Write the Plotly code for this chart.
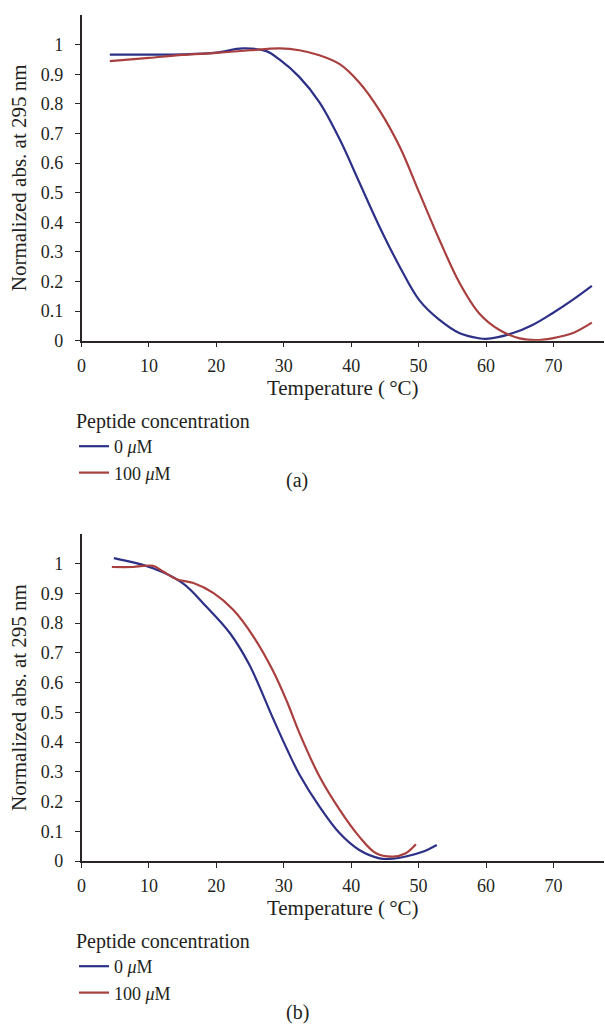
import plotly.graph_objects as go

# ---- data: panel (a) ----
a_x_0uM = [4.2, 10, 15, 20, 23.9, 27.4, 29.4, 32.3, 35.3, 38.3, 41.2, 44.2, 47.2, 50.1, 53.1, 56.1, 59.0, 60.0, 63.9, 66.9, 69.8, 72.8, 75.7]
a_y_0uM = [0.966, 0.966, 0.967, 0.973, 0.987, 0.978, 0.949, 0.891, 0.805, 0.680, 0.535, 0.385, 0.250, 0.137, 0.070, 0.025, 0.008, 0.006, 0.025, 0.053, 0.092, 0.137, 0.185]
a_x_100uM = [4.2, 10, 15, 20, 25, 29.4, 32.3, 35.3, 38.3, 41.2, 44.2, 47.2, 50.1, 53.1, 56.1, 59.0, 62.0, 65.0, 67.4, 69.8, 72.8, 75.7]
a_y_100uM = [0.944, 0.955, 0.965, 0.972, 0.981, 0.987, 0.981, 0.964, 0.934, 0.872, 0.778, 0.655, 0.500, 0.340, 0.194, 0.092, 0.036, 0.008, 0.002, 0.008, 0.025, 0.061]

# ---- data: panel (b) ----
b_x_0uM = [4.8, 10.6, 15.0, 18.5, 22.0, 24.9, 28.4, 30.5, 32.3, 35.3, 38.3, 41.2, 44.2, 45.7, 48.1, 50.6, 52.7]
b_y_0uM = [1.019, 0.985, 0.935, 0.856, 0.767, 0.660, 0.480, 0.375, 0.292, 0.183, 0.093, 0.037, 0.009, 0.007, 0.015, 0.031, 0.054]
b_x_100uM = [4.5, 7.6, 10.6, 12.1, 14.1, 16.6, 19.6, 22.5, 25.5, 28.4, 30.5, 32.3, 35.3, 38.3, 41.2, 43.7, 46.2, 48.1, 49.6]
b_y_100uM = [0.989, 0.989, 0.993, 0.974, 0.948, 0.935, 0.901, 0.845, 0.755, 0.640, 0.535, 0.432, 0.284, 0.172, 0.082, 0.026, 0.015, 0.026, 0.056]

series_names = ["0 <i>\u03bc</i>M", "100 <i>\u03bc</i>M"]
x_ticks = [0, 10, 20, 30, 40, 50, 60, 70]
y_ticks = [0, 0.1, 0.2, 0.3, 0.4, 0.5, 0.6, 0.7, 0.8, 0.9, 1]
y_ticktext = ["0", "0.1", "0.2", "0.3", "0.4", "0.5", "0.6", "0.7", "0.8", "0.9", "1"]

BLUE = "#2d3087"
RED = "#a9403f"
AX = "#2b2626"
TXT = "#231f20"
FONT = "'Liberation Serif', 'Times New Roman', Times, 'DejaVu Serif', serif"
FS_TICK = 18
FS_TITLE = 21
FS_LEGT = 20
FS_LEG = 18
W, H = 605, 1035

fig = go.Figure()
fig.add_trace(go.Scatter(x=a_x_0uM, y=a_y_0uM, mode="lines", name=series_names[0],
                         line=dict(color=BLUE, width=2.2, shape="spline", smoothing=1.0),
                         xaxis="x", yaxis="y", legend="legend"))
fig.add_trace(go.Scatter(x=a_x_100uM, y=a_y_100uM, mode="lines", name=series_names[1],
                         line=dict(color=RED, width=2.2, shape="spline", smoothing=1.0),
                         xaxis="x", yaxis="y", legend="legend"))
fig.add_trace(go.Scatter(x=b_x_0uM, y=b_y_0uM, mode="lines", name=series_names[0],
                         line=dict(color=BLUE, width=2.2, shape="spline", smoothing=1.0),
                         xaxis="x2", yaxis="y2", legend="legend2"))
fig.add_trace(go.Scatter(x=b_x_100uM, y=b_y_100uM, mode="lines", name=series_names[1],
                         line=dict(color=RED, width=2.2, shape="spline", smoothing=1.0),
                         xaxis="x2", yaxis="y2", legend="legend2"))

def xaxis(anchor):
    return dict(domain=[81.5 / W, 604 / W], range=[0, 77.5], anchor=anchor, automargin=False,
                tickvals=x_ticks, showline=True, linecolor=AX, linewidth=1.5,
                ticks="outside", ticklen=5, tickcolor=AX, tickwidth=1.2,
                showgrid=False, zeroline=False, ticklabelstandoff=3,
                title=dict(text="Temperature (\u2009\u00b0C)", standoff=5,
                           font=dict(family=FONT, size=FS_TITLE, color=TXT)),
                tickfont=dict(family=FONT, size=FS_TICK, color=TXT))

def yaxis(anchor, top_px, bot_px):
    return dict(domain=[1 - bot_px / H, 1 - top_px / H], range=[0, 1.1], anchor=anchor, automargin=False,
                tickvals=y_ticks, ticktext=y_ticktext, showline=True, linecolor=AX, linewidth=1.5,
                ticks="outside", ticklen=5, tickcolor=AX, tickwidth=1.2,
                showgrid=False, zeroline=False, ticklabelstandoff=8,
                title=dict(text="Normalized abs. at 295 nm", standoff=8,
                           font=dict(family=FONT, size=FS_TITLE, color=TXT)),
                tickfont=dict(family=FONT, size=FS_TICK, color=TXT))

def legend(top_px):
    return dict(x=74 / W, y=1 - top_px / H, xanchor="left", yanchor="top",
                title=dict(text="Peptide concentration", side="top",
                           font=dict(family=FONT, size=FS_LEGT, color=TXT)),
                font=dict(family=FONT, size=FS_LEG, color=TXT),
                bgcolor="rgba(0,0,0,0)", itemwidth=30, tracegroupgap=0)

fig.update_layout(
    width=W, height=H, margin=dict(l=0, r=0, t=0, b=0, autoexpand=False),
    paper_bgcolor="white", plot_bgcolor="white", showlegend=True,
    xaxis=xaxis("y"), yaxis=yaxis("x", 15, 340.7),
    xaxis2=xaxis("y2"), yaxis2=yaxis("x2", 534, 861),
    legend=legend(402), legend2=legend(922),
    annotations=[
        dict(text="(a)", x=297 / W, y=1 - 480 / H, xref="paper", yref="paper",
             showarrow=False, font=dict(family=FONT, size=FS_LEGT, color=TXT)),
        dict(text="(b)", x=297 / W, y=1 - 1026 / H, xref="paper", yref="paper",
             showarrow=False, font=dict(family=FONT, size=FS_LEGT, color=TXT)),
    ],
)

fig.write_html("out.html", config={"displayModeBar": False},
               post_script="document.body.style.margin='0px';document.body.style.overflow='hidden';")
